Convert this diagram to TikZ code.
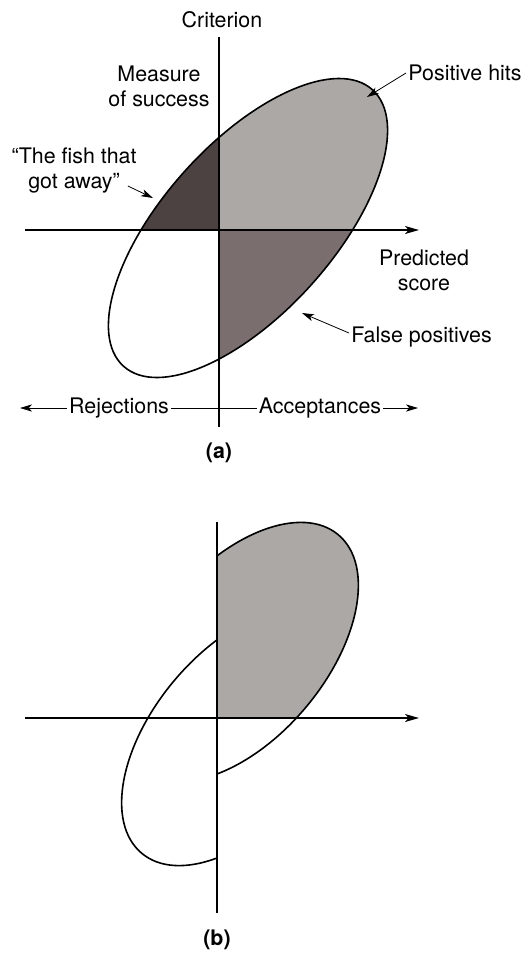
\documentclass[tikz,border=0pt]{standalone}
\usepackage{fontspec}
\setmainfont{TeX Gyre Heros}
\usetikzlibrary{arrows.meta, positioning}

\definecolor{hitgray}{HTML}{ABA8A5}
\definecolor{fishgray}{HTML}{4D4242}
\definecolor{falsegray}{HTML}{7A6E6E}

\begin{document}
\begin{tikzpicture}[x=0.5pt, y=-0.5pt, font=\fontsize{10.7}{12.5}\selectfont]
    \tikzstyle{txt} = [inner sep=1pt, align=center]
    \tikzstyle{line} = [draw, -{Stealth[length=6pt, width=3.6pt, inset=1.6pt]}]
    \tikzstyle{axis} = [draw, line width=0.6pt, -{Stealth[length=7pt, width=4pt, inset=1.8pt]}]
    \tikzstyle{rim} = [line width=0.8pt]

    \useasboundingbox (0,0) rectangle (521,955);

    % (a) the full ellipse
    \begin{scope}
        \clip [shift={(248,228)}, rotate=48] (0,0) ellipse [x radius=186, y radius=85];
        \fill [hitgray] (219,0) rectangle (521,230);
        \fill [fishgray] (0,0) rectangle (219,230);
        \fill [falsegray] (219,230) rectangle (521,500);
    \end{scope}
    \draw [rim, shift={(248,228)}, rotate=48] (0,0) ellipse [x radius=186, y radius=85];

    \coordinate (ytop) at (219,37);
    \coordinate (ybot) at (219,427);
    \coordinate (xleft) at (25,230);
    \coordinate (xright) at (419,230);
    \draw [line width=0.6pt] (ytop) -- (ybot);
    \path [axis] (xleft) -- (xright);

    \node [txt] (criterion) at (222,20) {Criterion};
    \node [txt] (measure) at (159,86) {Measure\\of success};
    \node [txt, anchor=west] (hits) at (406,73) {Positive hits};
    \node [txt] (fish) at (74,170) {“The fish that\\got away”};
    \node [txt] (predicted) at (424,270) {Predicted\\score};
    \node [txt, anchor=west] (falsepos) at (349,337) {False positives};

    \coordinate (hitpt) at (367,97);
    \coordinate (fishpt) at (153,198);
    \coordinate (falsept) at (302,313);
    \path [line] (hits.west) -- (hitpt);
    \path [line] ([xshift=-5.5pt, yshift=-8pt]fish.east) -- (fishpt);
    \path [line] ([yshift=2pt]falsepos.west) -- (falsept);

    \node [txt] (rejections) at (119,408) {Rejections};
    \node [txt] (acceptances) at (320,408) {Acceptances};
    \coordinate (rejend) at (20,408);
    \coordinate (accend) at (418,408);
    \path [line] (rejections.west) -- (rejend);
    \draw (rejections.east) -- (acceptances.west);
    \path [line] (acceptances.east) -- (accend);

    \node [txt, font=\fontsize{10.7}{12.5}\selectfont\bfseries] (capa) at (219,453) {(a)};

    % (b) the split ellipse
    \begin{scope}
        \clip (217,0) rectangle (521,718);
        \fill [hitgray, shift={(240,652)}, rotate=50] (0,0) ellipse [x radius=153, y radius=86];
    \end{scope}
    \begin{scope}
        \clip (217,500) rectangle (521,955);
        \draw [rim, shift={(240,652)}, rotate=50] (0,0) ellipse [x radius=153, y radius=86];
    \end{scope}
    \begin{scope}
        \clip (0,500) rectangle (217,955);
        \draw [rim, shift={(240,736)}, rotate=50] (0,0) ellipse [x radius=153, y radius=86];
    \end{scope}

    \coordinate (ytopb) at (217,522);
    \coordinate (ybotb) at (217,913);
    \coordinate (xleftb) at (25,718);
    \coordinate (xrightb) at (419,718);
    \draw [line width=0.6pt] (ytopb) -- (ybotb);
    \path [axis] (xleftb) -- (xrightb);

    \node [txt, font=\fontsize{10.7}{12.5}\selectfont\bfseries] (capb) at (217,940) {(b)};
\end{tikzpicture}
\end{document}
